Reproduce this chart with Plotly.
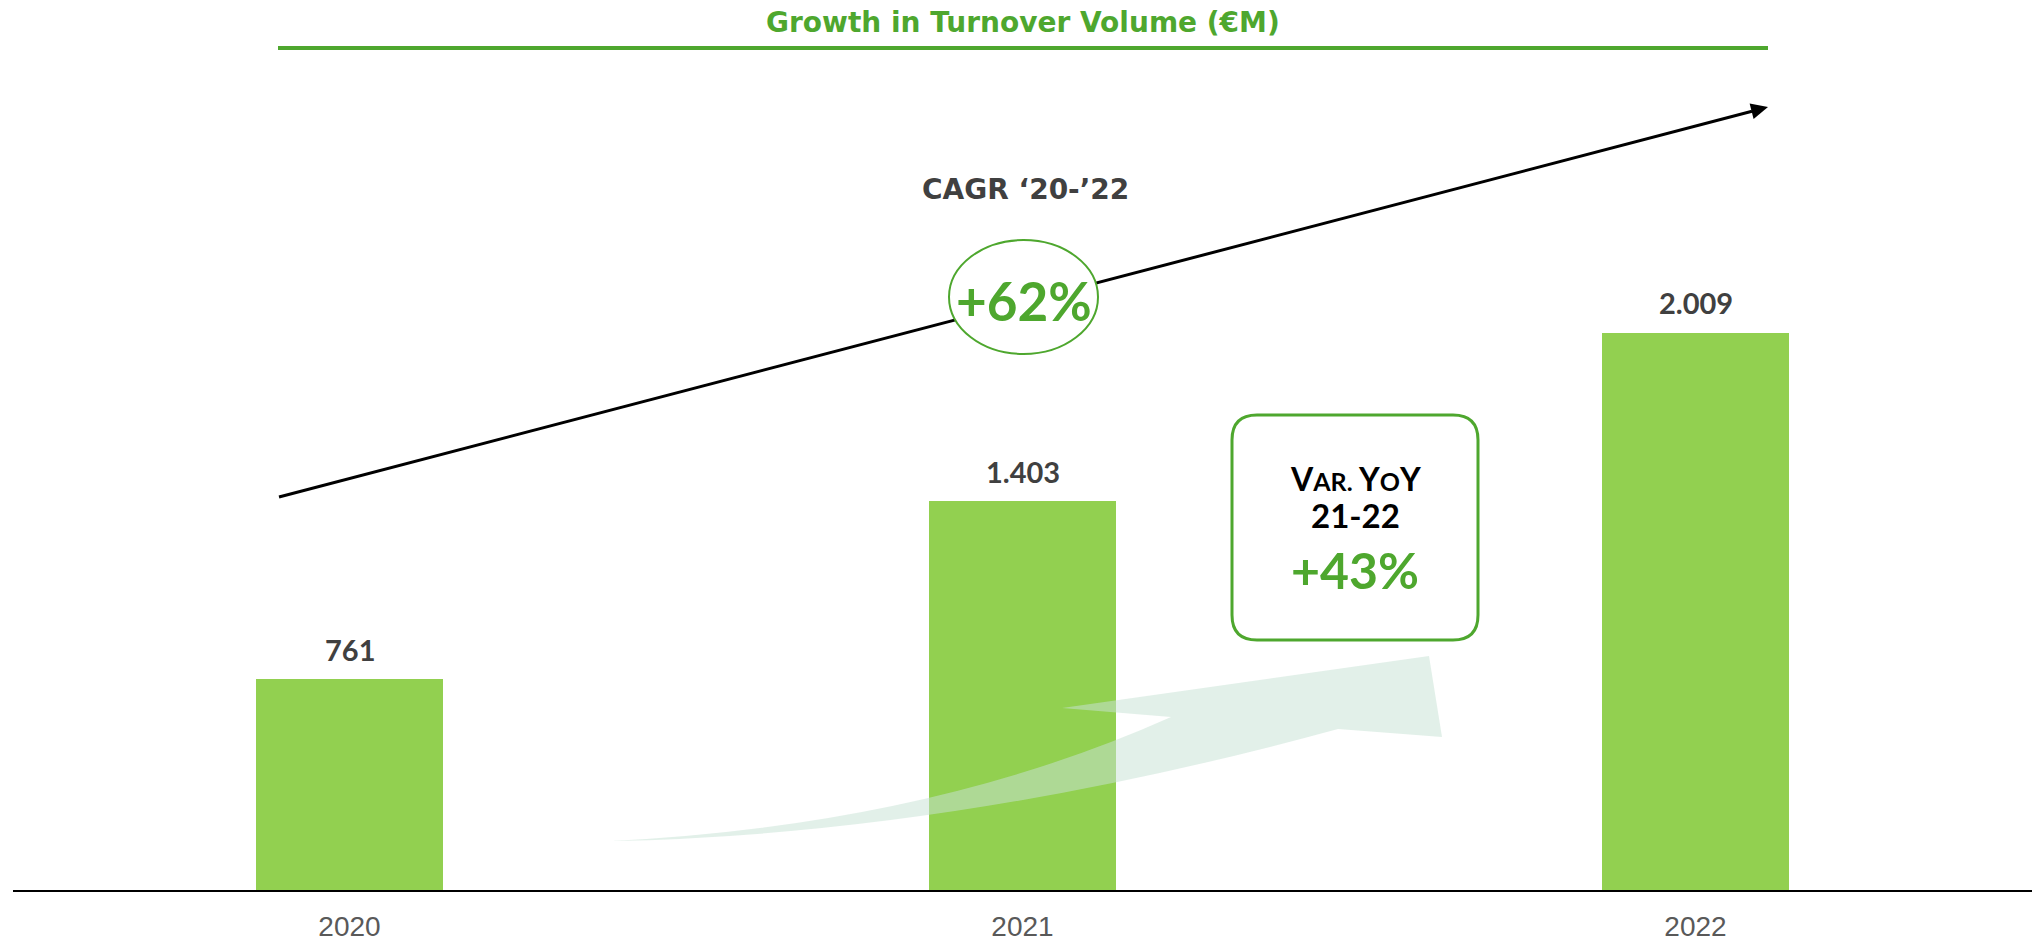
import plotly.graph_objects as go

# ---- data ----
years = ["2020", "2021", "2022"]
turnover = [761, 1403, 2009]
title_text = "Growth in Turnover Volume (€M)"
cagr_label = "CAGR ‘20-’22"
cagr_value = "+62%"
yoy_label_1 = "V<span style='font-size:25px'>AR.</span> Y<span style='font-size:25px'>O</span>Y"
yoy_label_2 = "21-22"
yoy_value = "+43%"

# ---- layout geometry ----
W, H = 2040, 945
L, R, T, B = 13, 8, 0, 55
PW, PH = W - L - R, H - T - B

GREEN = "#4EA72E"
BAR = "#92D050"
DARK = "#404040"
FONT_B = "Lato"
FONT_W = "DejaVu Sans"
FONT_R = "Liberation Sans"


def px(x):
    return (x - L) / PW


def py(y):
    return (H - B - y) / PH


def fmt(v):
    return f"{v:,}".replace(",", ".")


fig = go.Figure()
fig.add_trace(go.Bar(x=years, y=turnover, width=0.278,
                     marker=dict(color=BAR, line=dict(width=0)),
                     hoverinfo="skip"))

shapes = []
# faint curved arrow
arrow_path = (
    f"M {px(611)},{py(841)} "
    f"Q {px(930)},{py(825)} {px(1171)},{py(717)} "
    f"L {px(1062)},{py(708)} "
    f"L {px(1429)},{py(656)} "
    f"L {px(1442)},{py(737)} "
    f"L {px(1338)},{py(729)} "
    f"Q {px(950)},{py(835)} {px(611)},{py(841)} Z"
)
shapes.append(dict(type="path", xref="paper", yref="paper", path=arrow_path,
                   fillcolor="rgba(200,226,213,0.52)", line=dict(width=0),
                   layer="above"))
# title underline
shapes.append(dict(type="line", xref="paper", yref="paper",
                   x0=px(278), x1=px(1768), y0=py(48), y1=py(48),
                   line=dict(color=GREEN, width=4), layer="above"))
# black trend line
shapes.append(dict(type="line", xref="paper", yref="paper",
                   x0=px(279), y0=py(497), x1=px(1752), y1=py(111.3),
                   line=dict(color="black", width=3), layer="above"))
# arrow head
head = (f"M {px(1768)},{py(107)} L {px(1753.6)},{py(119)} "
        f"L {px(1749.6)},{py(103.6)} Z")
shapes.append(dict(type="path", xref="paper", yref="paper", path=head,
                   fillcolor="black", line=dict(width=0), layer="above"))
# ellipse
shapes.append(dict(type="circle", xref="paper", yref="paper",
                   x0=px(949), x1=px(1098), y0=py(240), y1=py(354),
                   fillcolor="white", line=dict(color=GREEN, width=2),
                   layer="above"))
# rounded box
bx0, bx1, by0, by1, r = 1232, 1478, 415, 640, 25
box = (
    f"M {px(bx0 + r)},{py(by0)} L {px(bx1 - r)},{py(by0)} "
    f"Q {px(bx1)},{py(by0)} {px(bx1)},{py(by0 + r)} "
    f"L {px(bx1)},{py(by1 - r)} "
    f"Q {px(bx1)},{py(by1)} {px(bx1 - r)},{py(by1)} "
    f"L {px(bx0 + r)},{py(by1)} "
    f"Q {px(bx0)},{py(by1)} {px(bx0)},{py(by1 - r)} "
    f"L {px(bx0)},{py(by0 + r)} "
    f"Q {px(bx0)},{py(by0)} {px(bx0 + r)},{py(by0)} Z"
)
shapes.append(dict(type="path", xref="paper", yref="paper", path=box,
                   fillcolor="white", line=dict(color=GREEN, width=3),
                   layer="above"))

annotations = []
for i, v in enumerate(turnover):
    annotations.append(dict(x=i, y=v, xref="x", yref="y", yshift=30,
                            text=f"<b>{fmt(v)}</b>", showarrow=False,
                            xanchor="center", yanchor="middle",
                            font=dict(family=FONT_B, size=29, color=DARK)))


def txt(x, y, text, size, color, family=FONT_B):
    annotations.append(dict(x=px(x), y=py(y), xref="paper", yref="paper",
                            text=text, showarrow=False, xanchor="center",
                            yanchor="middle",
                            font=dict(family=family, size=size, color=color)))


txt(1023, 23, f"<b>{title_text}</b>", 28, GREEN, FONT_W)
txt(1025, 190, f"<b>{cagr_label}</b>", 28, DARK, FONT_W)
txt(1024, 300, f"<b>{cagr_value}</b>", 53, GREEN)
txt(1355, 478, f"<b>{yoy_label_1}</b>", 32, "black")
txt(1355, 515, f"<b>{yoy_label_2}</b>", 33, "black")
txt(1355, 570, f"<b>{yoy_value}</b>", 50, GREEN)

fig.update_layout(
    width=W, height=H, autosize=False,
    margin=dict(l=L, r=R, t=T, b=B, pad=0),
    paper_bgcolor="white", plot_bgcolor="white",
    showlegend=False, bargap=0,
    shapes=shapes, annotations=annotations,
    xaxis=dict(type="category", range=[-0.5, 2.5], showgrid=False,
               showline=True, linecolor="black", linewidth=2,
               ticks="", ticklabelstandoff=10,
               tickfont=dict(family=FONT_R, size=28, color="#595959"),
               fixedrange=True, zeroline=False),
    yaxis=dict(range=[0, 3210], visible=False, fixedrange=True),
)

fig.write_html("out.html", config={"displayModeBar": False},
               post_script="document.body.style.margin='0px';document.body.style.padding='0px';")
